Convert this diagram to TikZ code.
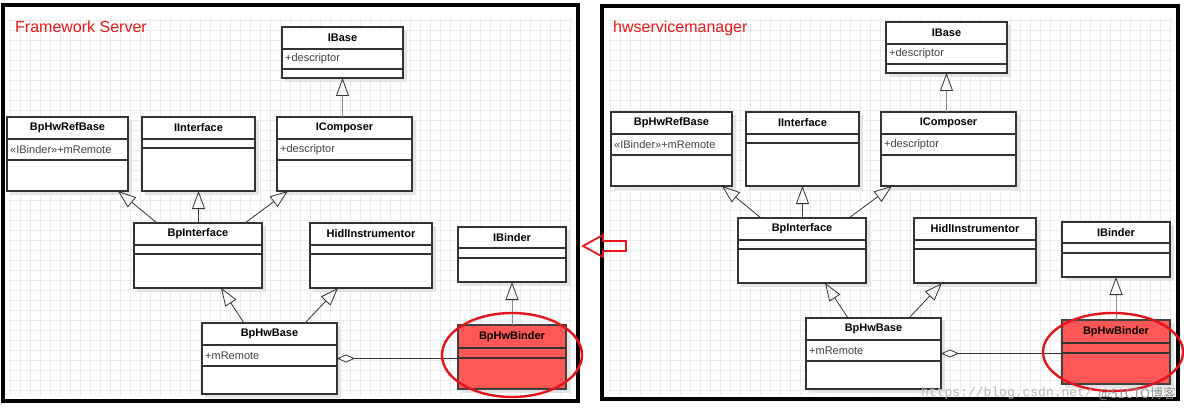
\documentclass[tikz,border=0pt]{standalone}
\usepackage{fontspec}
\setmainfont{Liberation Sans}
\newfontfamily\cjkfont{Noto Sans CJK SC}
\newfontfamily\wmmono{Liberation Mono}
\usetikzlibrary{arrows.meta}
\definecolor{boxline}{HTML}{333333}
\definecolor{attrc}{HTML}{404040}
\definecolor{hlfill}{HTML}{FF5656}
\definecolor{redline}{HTML}{E3141B}
\definecolor{titlered}{HTML}{F01818}
\definecolor{gridc}{HTML}{EBEBEB}
\definecolor{shadowc}{HTML}{E4E4E4}
\tikzset{
 classbox/.style={draw=boxline, line width=1.1pt, fill=white, inner sep=0pt, outer sep=0pt, anchor=north west},
 hlbox/.style={classbox, fill=hlfill, draw=black!75},
 clstitle/.style={font=\bfseries\fontsize{11}{13}\selectfont, inner sep=0pt},
 clsattr/.style={font=\fontsize{11}{13}\selectfont, text=attrc, inner sep=0pt, anchor=west},
 gen/.style={draw=black!80, line width=0.8pt, -{Triangle[open, length=18pt, width=13pt]}},
 genlight/.style={draw=black!45, line width=0.8pt, -{Triangle[open, length=18pt, width=13pt, color=black!80]}},
 agg/.style={draw=black!80, line width=0.8pt, {Diamond[open, length=18pt, width=8pt]}-},
 panel/.style={draw=black, line width=3.2pt},
 callout/.style={draw=redline, line width=2.4pt},
}
\newcommand\umlcls[9]{%
 \fill[shadowc] (#3+3,#4+3) rectangle (#5+4,#6+4);
 \node[#1, minimum width={#5-#3}, minimum height={#6-#4}] (#2) at (#3,#4) {};
 \draw[boxline, line width=1.1pt] (#3,#7) -- (#5,#7) (#3,#8) -- (#5,#8);
 \node[clstitle] (#2-t) at ({(#3+#5)/2},{(#4+#7)/2}) {#9};
}
\newcommand\clsattrib[4]{\node[clsattr] (#1) at (#2+3,#3) {#4};}
\newcommand\umlpanel[1]{%
 \umlcls{classbox}{#1ibase}{282}{27}{403}{78}{49}{69}{IBase}
 \clsattrib{#1ibase-a}{282}{59}{+descriptor}
 \umlcls{classbox}{#1refb}{7}{117}{128}{191}{139}{160}{BpHwRefBase}
 \clsattrib{#1refb-a}{7}{149.5}{«IBinder»+mRemote}
 \umlcls{classbox}{#1iint}{142}{117}{255}{191}{139}{148}{IInterface}
 \umlcls{classbox}{#1icomp}{277}{117}{412}{191}{139}{160}{IComposer}
 \clsattrib{#1icomp-a}{277}{149.5}{+descriptor}
 \umlcls{classbox}{#1bpi}{134}{223}{262}{288}{245}{254}{BpInterface}
 \umlcls{classbox}{#1hidl}{310}{223}{432}{288}{245}{254}{HidlInstrumentor}
 \umlcls{classbox}{#1ibinder}{458}{227}{566}{282}{248}{258}{IBinder}
 \umlcls{classbox}{#1base}{202}{323}{337}{394}{345}{366}{BpHwBase}
 \clsattrib{#1base-a}{202}{355.5}{+mRemote}
 \umlcls{hlbox}{#1hwb}{458}{325}{566}{389}{348}{358}{BpHwBinder}
 \draw[genlight] (#1ibase.south |- #1icomp.north) -- (#1ibase.south);
 \draw[gen] ([xshift=23pt]#1bpi.north west) -- ([xshift=-10pt]#1refb.south east);
 \draw[gen] (#1iint.south |- #1bpi.north) -- (#1iint.south);
 \draw[gen] ([xshift=-17pt]#1bpi.north east) -- ([xshift=11pt]#1icomp.south west);
 \draw[gen] ([xshift=42pt]#1base.north west) -- ([xshift=-41pt]#1bpi.south east);
 \draw[gen] ([xshift=-32pt]#1base.north east) -- ([xshift=28pt]#1hidl.south west);
 \draw[genlight] (#1hwb.north) -- (#1ibinder.south);
 \draw[agg] (#1base.east) -- (#1hwb.west |- #1base.east);
}
\begin{document}
\begin{tikzpicture}[x=1pt,y=-1pt]
\useasboundingbox (0,0) rectangle (1184,409);
\fill[white] (0,0) rectangle (1184,409);
% grids
\draw[gridc, line width=0.4pt, step=10pt] (8,18) grid (572,396);
\draw[gridc, line width=0.4pt, step=10pt] (608,18) grid (1173,394);
% panels
\draw[panel] (3,5) rectangle (578,401);
\draw[panel] (602,6) rectangle (1178,399);
\node[font=\fontsize{16}{19}\selectfont, text=titlered, anchor=west, inner sep=0pt] (ttlL) at (15,27) {Framework Server};
\node[font=\fontsize{16}{19}\selectfont, text=titlered, anchor=west, inner sep=0pt] (ttlR) at (613,28) {hwservicemanager};
% diagrams
\umlpanel{L}
\begin{scope}[shift={(604,-5)}]
\umlpanel{R}
\end{scope}
% callouts
\draw[callout] (512,355) ellipse [x radius=70, y radius=42];
\draw[callout] (1113,352) ellipse [x radius=70, y radius=39];
\draw[redline, line width=1.8pt, line join=miter] (583,246) -- (603,235) -- (603,241) -- (626,241) -- (626,251) -- (603,251) -- (603,257) -- cycle;
% watermark
\node[font=\wmmono\fontsize{13}{15}\selectfont, text=black!28, anchor=west, inner sep=0pt] (wm1) at (921,393) {https://blog.csdn.net/};
\node[font=\cjkfont\fontsize{13}{15}\selectfont, text=black!42, anchor=west, inner sep=0pt] (wm2) at (1098,394) {@51CTO博客};
\end{tikzpicture}
\end{document}
